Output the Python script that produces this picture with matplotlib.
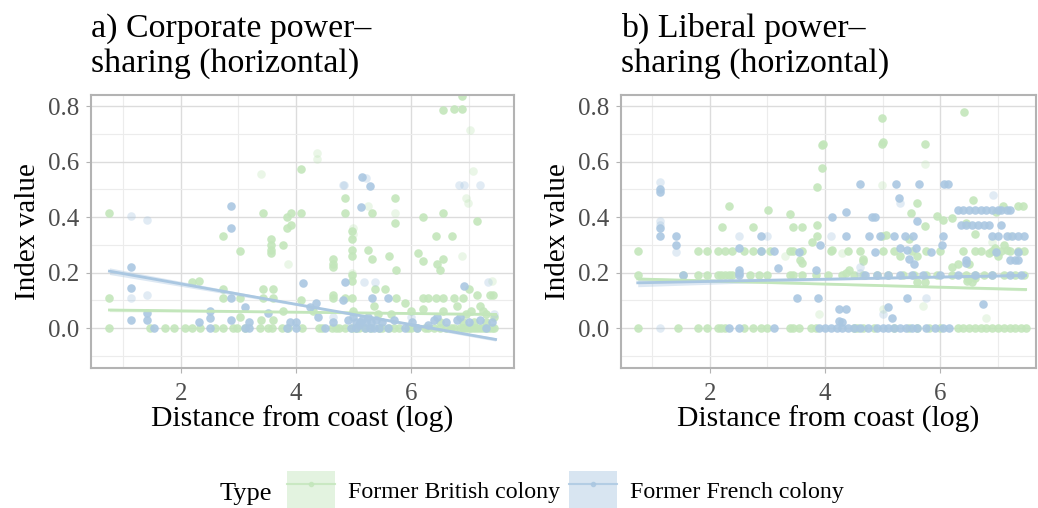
import matplotlib
matplotlib.use("Agg")
import matplotlib.pyplot as plt
from matplotlib.lines import Line2D
from matplotlib.patches import Patch
from matplotlib.ticker import MultipleLocator

plt.rcParams['font.family'] = ['Liberation Serif', 'DejaVu Serif']

GREEN = "#c3e6bb"
BLUE = "#aac7e1"

# ---------------- panel a: corporate power-sharing ----------------
a_title = ["a) Corporate power\u2013", "sharing (horizontal)"]
a_brit = [(0.76, 0.415), (0.76, 0.109), (2.19, 0.165), (2.32, 0.17), (2.74, 0.333), (2.74, 0.14),
          (2.74, 0.11), (3.02, 0.278), (3.02, 0.11), (3.02, 0.04), (3.43, 0.415), (3.43, 0.14),
          (3.43, 0.11), (3.40, 0.03), (3.57, 0.32), (3.57, 0.30), (3.57, 0.28), (3.57, 0.27),
          (3.6, 0.14), (3.6, 0.11), (3.6, 0.03), (3.77, 0.30), (3.77, 0.06), (3.85, 0.36),
          (3.85, 0.40), (3.92, 0.37), (3.92, 0.415), (4.09, 0.573), (4.09, 0.415), (4.09, 0.10),
          (4.3, 0.06), (4.64, 0.25), (4.64, 0.23), (4.64, 0.22), (4.64, 0.11), (4.64, 0.12),
          (4.86, 0.47), (4.86, 0.415), (4.86, 0.11), (4.98, 0.35), (4.98, 0.32), (4.98, 0.28),
          (4.98, 0.26), (4.98, 0.19), (4.98, 0.17), (4.98, 0.11), (5.0, 0.06), (5.25, 0.28),
          (5.32, 0.415), (5.32, 0.25), (5.35, 0.08), (5.38, 0.14), (5.42, 0.05), (5.55, 0.14),
          (5.61, 0.26), (5.65, 0.05), (5.73, 0.47), (5.73, 0.38), (5.74, 0.21), (5.74, 0.11),
          (5.9, 0.09), (6.0, 0.06), (6.12, 0.27), (6.2, 0.40), (6.2, 0.24), (6.2, 0.11),
          (6.2, 0.07), (6.3, 0.11), (6.43, 0.333), (6.43, 0.11), (6.45, 0.23), (6.5, 0.21),
          (6.55, 0.415), (6.55, 0.785), (6.55, 0.25), (6.55, 0.11), (6.55, 0.06), (6.71, 0.333),
          (6.74, 0.79), (6.74, 0.11), (6.8, 0.08), (6.88, 0.835), (6.88, 0.79), (6.9, 0.11),
          (7.0, 0.14), (7.05, 0.06), (7.15, 0.385), (7.15, 0.12), (7.2, 0.08), (7.3, 0.05),
          (7.38, 0.12), (7.42, 0.12), (7.45, 0.04), (6.5, 0.02), (6.9, 0.02), (7.1, 0.02),
          (7.3, 0.02), (6.95, 0.05), (7.25, 0.06)]
a_brit_zero = [0.76, 1.46, 1.72, 1.88, 2.08, 2.2, 2.33, 2.6, 2.74, 2.9, 2.98, 3.12, 3.38, 3.52,
               3.58, 3.75, 3.87, 4.1, 4.4, 4.46, 4.63, 4.7, 4.75, 4.85, 4.98, 5.05, 5.1, 5.2,
               5.3, 5.45, 5.5, 5.62, 5.7, 5.8, 5.95, 6.0, 6.1, 6.25, 6.3, 6.4, 6.5, 6.6, 6.7,
               6.75, 6.85, 6.9, 6.95, 7.0, 7.05, 7.1, 7.15, 7.2, 7.25, 7.3, 7.35, 7.4, 7.45]
a_brit_faded = [(3.40, 0.554), (4.37, 0.63), (4.37, 0.61), (3.86, 0.23), (5.26, 0.44), (5.0, 0.34),
                (5.0, 0.36), (7.03, 0.715), (7.07, 0.566), (6.95, 0.47), (6.99, 0.45), (6.89, 0.26),
                (5.73, 0.415), (4.98, 0.20), (7.4, 0.17)]
a_fren = [(1.14, 0.22), (1.14, 0.145), (1.14, 0.03), (1.42, 0.055), (1.42, 0.03), (1.54, 0.0),
          (2.31, 0.02), (2.5, 0.06), (2.5, 0.035), (2.5, 0.0), (2.88, 0.44), (2.88, 0.36),
          (2.88, 0.11), (2.88, 0.03), (3.12, 0.077), (3.18, 0.02), (3.12, 0.0), (3.18, 0.0),
          (3.51, 0.055), (3.9, 0.02), (4.0, 0.02), (3.85, 0.0), (4.12, 0.163), (4.24, 0.075),
          (4.35, 0.09), (4.38, 0.04), (4.0, 0.0), (4.5, 0.0), (4.64, 0.02), (4.81, 0.10),
          (4.85, 0.165), (5.14, 0.545), (5.29, 0.513), (5.13, 0.436), (5.32, 0.11), (5.6, 0.11),
          (4.9, 0.03), (5.0, 0.04), (5.05, 0.02), (5.1, 0.01), (5.15, 0.03), (5.2, 0.0),
          (5.25, 0.04), (5.3, 0.02), (5.35, 0.0), (5.4, 0.03), (5.5, 0.02), (5.6, 0.0),
          (5.7, 0.03), (5.9, 0.0), (6.02, 0.02), (6.1, 0.0), (6.3, 0.01), (6.4, 0.03),
          (6.45, 0.04), (6.6, 0.02), (6.8, 0.03), (6.85, 0.04), (6.92, 0.153), (7.0, 0.02),
          (7.2, 0.03), (7.3, 0.0), (7.4, 0.02), (4.95, 0.0), (5.05, 0.0), (5.12, 0.02),
          (5.22, 0.02), (5.28, 0.0), (5.45, 0.0)]
a_fren_faded = [(1.14, 0.405), (1.42, 0.39), (1.42, 0.118), (1.14, 0.11), (4.81, 0.517),
                (4.84, 0.517), (5.22, 0.54), (5.19, 0.165), (5.38, 0.165), (6.83, 0.517),
                (6.92, 0.517), (7.2, 0.517), (7.34, 0.165), (6.0, 0.04), (4.65, 0.04), (7.45, 0.05)]
# fitted lines (lm), with ribbon half-width at left/mid/right
a_fit_x = [0.76, 4.1, 7.47]
a_brit_fit = [0.065, 0.057, 0.049]
a_brit_se = [0.006, 0.003, 0.004]
a_fren_fit = [0.205, 0.082, -0.041]
a_fren_se = [0.012, 0.004, 0.006]

# ---------------- panel b: liberal power-sharing ----------------
b_title = ["b) Liberal power\u2013", "sharing (horizontal)"]
b_brit = [(0.75, 0.277), (0.75, 0.19), (2.33, 0.44), (2.21, 0.365), (2.75, 0.365), (3.01, 0.425),
          (3.4, 0.41), (3.45, 0.365), (3.6, 0.365), (3.86, 0.51), (3.94, 0.66), (3.96, 0.665),
          (3.94, 0.577), (3.86, 0.37), (3.86, 0.333), (3.78, 0.31), (3.57, 0.245), (3.6, 0.235),
          (4.99, 0.757), (4.99, 0.665), (5.0, 0.67), (4.99, 0.33), (5.05, 0.335), (6.41, 0.777),
          (5.74, 0.665), (5.6, 0.45), (5.49, 0.415), (5.74, 0.367), (5.95, 0.405), (6.04, 0.39),
          (6.2, 0.397), (6.56, 0.46), (6.45, 0.38), (6.96, 0.42), (7.08, 0.44), (7.43, 0.44),
          (7.35, 0.44), (4.65, 0.24), (4.65, 0.25), (4.42, 0.21), (4.36, 0.2), (6.46, 0.17),
          (6.55, 0.165), (5.6, 0.165), (5.74, 0.165), (6.5, 0.23), (6.85, 0.27), (6.95, 0.29),
          (7.1, 0.3), (7.15, 0.28), (6.2, 0.22), (6.3, 0.23), (4.12, 0.28), (5.3, 0.26),
          (5.45, 0.32), (5.6, 0.26), (6.6, 0.34), (7.0, 0.26), (6.48, 0.175), (6.6, 0.18)]
b_brit_row19 = [1.54, 1.79, 1.96, 2.14, 2.2, 2.27, 2.33, 2.39, 2.7, 2.85, 3.0, 3.4, 3.45, 3.6,
                3.85, 4.05, 4.3, 4.5, 4.65, 4.9, 5.1, 5.35, 5.55, 5.75, 5.95, 6.2, 6.45, 6.6,
                6.75, 6.9, 7.1, 7.3, 7.45]
b_brit_row28 = [1.79, 1.96, 2.14, 2.27, 2.39, 2.6, 2.75, 2.89, 3.05, 3.4, 3.45, 3.6, 4.1, 4.4,
                4.6, 5.0, 5.2, 5.5, 5.75, 6.0, 6.4, 6.6, 6.7, 6.9, 7.05, 7.2, 7.35, 7.45]
b_brit_zero = [0.75, 1.45, 1.79, 1.96, 2.14, 2.2, 2.27, 2.6, 2.75, 2.89, 3.0, 3.4, 3.45, 3.55,
               3.75, 3.85, 4.5, 4.55, 4.65, 4.85, 5.2, 5.45, 5.6, 5.8, 6.0, 6.3, 6.4, 6.5,
               6.6, 6.7, 6.8, 6.9, 7.0, 7.1, 7.2, 7.3, 7.4, 7.48]
b_brit_faded = [(4.99, 0.515), (5.74, 0.59), (3.9, 0.05), (5.0, 0.07), (5.7, 0.08), (6.8, 0.035),
                (4.3, 0.27), (3.3, 0.26), (7.2, 0.33), (6.9, 0.31)]
b_fren = [(1.14, 0.49), (1.14, 0.50), (1.14, 0.333), (1.14, 0.36), (1.42, 0.33), (1.42, 0.3),
          (1.54, 0.19), (2.5, 0.29), (2.5, 0.21), (2.5, 0.20), (2.5, 0.19), (2.89, 0.333),
          (2.89, 0.277), (3.12, 0.277), (3.18, 0.217), (3.52, 0.11), (3.87, 0.11), (3.55, 0.275),
          (3.91, 0.3), (3.85, 0.21), (4.12, 0.4), (4.36, 0.42), (4.36, 0.333), (4.24, 0.07),
          (4.36, 0.07), (4.25, 0.025), (4.3, 0.02), (4.61, 0.52), (4.81, 0.4), (4.87, 0.4),
          (4.77, 0.333), (4.95, 0.333), (4.87, 0.275), (5.23, 0.52), (5.29, 0.47), (5.63, 0.52),
          (5.6, 0.385), (5.2, 0.333), (5.38, 0.333), (5.52, 0.333), (5.3, 0.29), (5.42, 0.28),
          (5.58, 0.29), (5.45, 0.25), (5.55, 0.23), (5.83, 0.275), (5.1, 0.075), (5.16, 0.035),
          (5.43, 0.11), (6.07, 0.52), (6.13, 0.52), (6.04, 0.333), (6.02, 0.3), (6.74, 0.085),
          (6.45, 0.235), (6.45, 0.245), (6.97, 0.275), (7.35, 0.275), (7.2, 0.245), (7.3, 0.245),
          (7.35, 0.245)]
b_fren_row43 = [6.3, 6.4, 6.5, 6.6, 6.7, 6.8, 6.9, 7.0, 7.05, 7.15, 7.2]
b_fren_row37 = [6.35, 6.45, 6.55, 6.65, 6.75, 6.85, 7.05]
b_fren_row33 = [6.9, 7.0, 7.15, 7.25, 7.35, 7.45]
b_fren_row19 = [4.7, 4.9, 5.1, 5.3, 5.5, 5.7, 6.0, 6.3, 6.6, 6.9, 7.2, 7.4]
b_fren_zero = [2.33, 2.5, 3.12, 3.9, 4.0, 4.1, 4.2, 4.3, 4.4, 4.5, 4.6, 4.75, 4.9, 5.0, 5.1,
               5.2, 5.3, 5.4, 5.5, 5.6, 5.75, 5.9, 6.05, 6.15]
b_fren_faded = [(1.14, 0.525), (1.14, 0.385), (1.14, 0.37), (1.42, 0.275), (1.14, 0.0),
                (2.5, 0.333), (3.0, 0.333), (4.1, 0.333), (4.6, 0.2), (5.75, 0.11), (5.3, 0.45),
                (6.91, 0.48), (4.6, 0.22), (5.0, 0.05)]
b_fit_x = [0.75, 4.1, 7.48]
b_brit_fit = [0.177, 0.158, 0.139]
b_brit_se = [0.006, 0.003, 0.005]
b_fren_fit = [0.163, 0.1765, 0.19]
b_fren_se = [0.014, 0.004, 0.005]

legend_labels = ["Former British colony", "Former French colony"]


def pts(pairs, row_xs=(), row_ys=()):
    xs = [p[0] for p in pairs]
    ys = [p[1] for p in pairs]
    for rx, ry in zip(row_xs, row_ys):
        xs += list(rx)
        ys += [ry] * len(rx)
    return xs, ys


def style_axes(ax, xlim, title):
    ax.set_xlim(*xlim)
    ax.set_ylim(-0.144, 0.84)
    ax.xaxis.set_major_locator(MultipleLocator(2))
    ax.xaxis.set_minor_locator(MultipleLocator(1))
    ax.yaxis.set_major_locator(MultipleLocator(0.2))
    ax.yaxis.set_minor_locator(MultipleLocator(0.1))
    ax.yaxis.set_major_formatter(lambda v, p: f"{v:.1f}")
    ax.grid(which='major', color='#dcdcdc', lw=1.0)
    ax.grid(which='minor', color='#ececec', lw=0.8)
    ax.set_axisbelow(True)
    for s in ax.spines.values():
        s.set_color('#b3b3b3')
        s.set_linewidth(1.5)
    ax.tick_params(which='major', length=3.5, color='#b3b3b3', labelcolor='#4d4d4d',
                   labelsize=18)
    ax.tick_params(axis='x', which='major', pad=7)
    ax.tick_params(axis='y', which='major', pad=5)
    ax.tick_params(which='minor', length=0)
    ax.set_xlabel("Distance from coast (log)", fontsize=21.3, labelpad=1)
    ax.set_ylabel("Index value", fontsize=21, labelpad=5)
    # two-line title, left aligned with the panel, baselines at fixed heights
    left = ax.get_position().x0
    fig.text(left, 1 - 37 / 508, title[0], fontsize=24.4, va='baseline', ha='left')
    fig.text(left, 1 - 72 / 508, title[1], fontsize=24.4, va='baseline', ha='left')


def draw_series(ax, solid, faded, fit_x, fit_y, se, color):
    ax.scatter(solid[0], solid[1], s=38, color=color, alpha=0.9, lw=0, zorder=2)
    ax.scatter(faded[0], faded[1], s=38, color=color, alpha=0.35, lw=0, zorder=2)
    lo = [y - e for y, e in zip(fit_y, se)]
    hi = [y + e for y, e in zip(fit_y, se)]
    ax.fill_between(fit_x, lo, hi, color=color, alpha=0.4, lw=0, zorder=3)
    ax.plot(fit_x, fit_y, color=color, lw=2, zorder=4)


fig = plt.figure(figsize=(10.38, 5.08), dpi=100)
ax1 = fig.add_axes([0.0877, 0.2756, 0.4075, 0.5374])
ax2 = fig.add_axes([0.5983, 0.2756, 0.3998, 0.5374])

draw_series(ax1, pts(a_brit, [a_brit_zero], [0.0]), pts(a_brit_faded),
            a_fit_x, a_brit_fit, a_brit_se, GREEN)
draw_series(ax1, pts(a_fren), pts(a_fren_faded),
            a_fit_x, a_fren_fit, a_fren_se, BLUE)
style_axes(ax1, (0.44, 7.79), a_title)

draw_series(ax2, pts(b_brit, [b_brit_row19, b_brit_row28, b_brit_zero], [0.19, 0.277, 0.0]),
            pts(b_brit_faded), b_fit_x, b_brit_fit, b_brit_se, GREEN)
draw_series(ax2, pts(b_fren, [b_fren_row43, b_fren_row37, b_fren_row33, b_fren_row19, b_fren_zero],
                     [0.425, 0.37, 0.333, 0.19, 0.0]),
            pts(b_fren_faded), b_fit_x, b_fren_fit, b_fren_se, BLUE)
style_axes(ax2, (0.46, 7.66), b_title)

# legend
handles = []
for c in (GREEN, BLUE):
    handles.append((Patch(facecolor=c, alpha=0.45, lw=0),
                    Line2D([], [], color=c, lw=1.5, marker='o', ms=3, alpha=0.8)))
fig.text(220 / 1038, 1 - 500 / 508, "Type", fontsize=19, va='baseline')
fig.legend(handles, legend_labels, ncol=2,
           loc='center left', bbox_to_anchor=(287 / 1038, 1 - 490 / 508), frameon=False,
           fontsize=17.2, handlelength=2.0, handleheight=2.1, handletextpad=0.55,
           columnspacing=0.38, borderpad=0, borderaxespad=0)

fig.savefig("out.png", dpi=100)
